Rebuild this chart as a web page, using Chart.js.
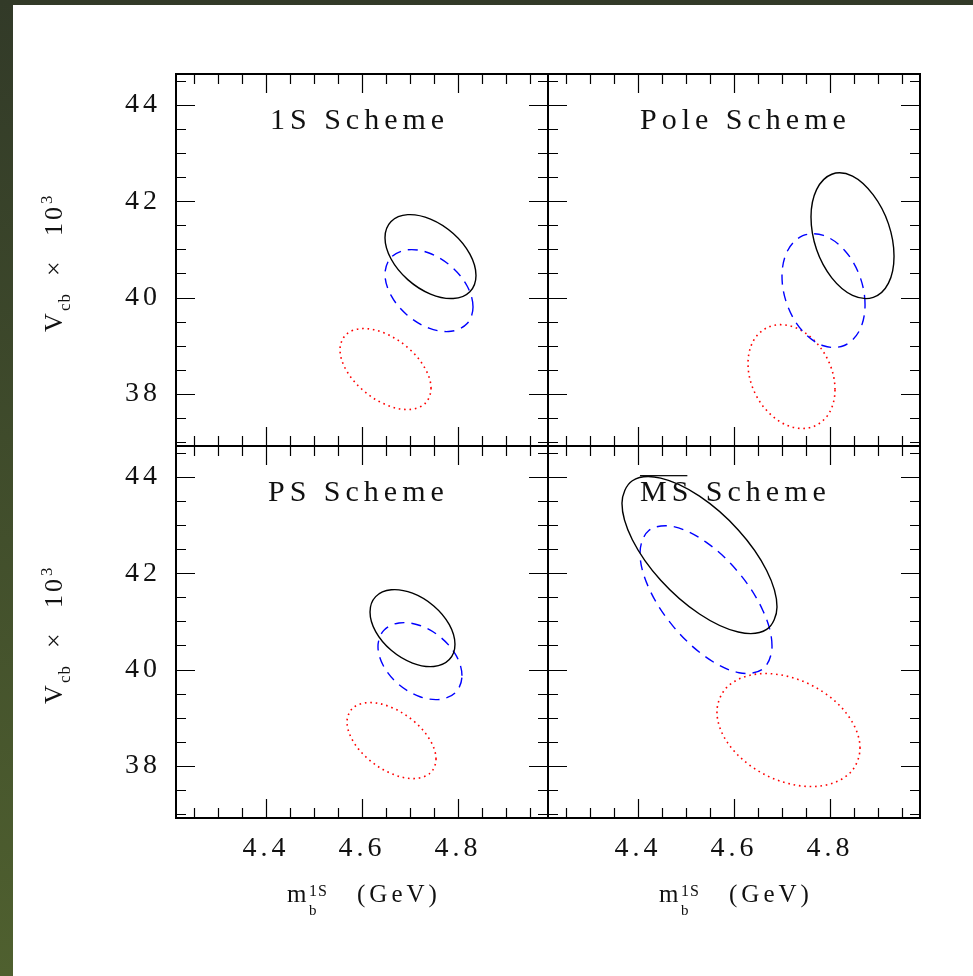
<!DOCTYPE html>
<html lang="en">
<head>
<meta charset="UTF-8">
<title>Vcb vs mb(1S) - four mass schemes</title>
<script src="https://cdn.jsdelivr.net/npm/chart.js"></script>
<style>
  html, body { margin: 0; width: 973px; height: 976px; overflow: hidden; background: linear-gradient(#323a28, #4f602f); }
  #page { position: absolute; left: 13px; top: 5px; right: 0; bottom: 0; background: #fff; }
  canvas { position: absolute; left: 0; top: 0; }
</style>
</head>
<body>
<div id="page"></div>
<canvas id="c1" width="973" height="976"></canvas>
<canvas id="c2" width="973" height="976"></canvas>
<canvas id="c3" width="973" height="976"></canvas>
<canvas id="c4" width="973" height="976"></canvas>

<script>
// axis ranges and ticks
const xRange = [4.2125, 4.9875];
const yRange = [36.92, 44.64];
const xMajor = [4.4, 4.6, 4.8];
const xMinor = [4.25, 4.3, 4.35, 4.45, 4.5, 4.55, 4.65, 4.7, 4.75, 4.85, 4.9, 4.95];
const yMajor = [38, 40, 42, 44];
const yMinor = [37, 37.5, 38.5, 39, 39.5, 40.5, 41, 41.5, 42.5, 43, 43.5, 44.5];

const titles = ['1S Scheme', 'Pole Scheme', 'PS Scheme', 'MS Scheme'];

// contours: [m_b, Vcb x 10^3]
// solid = black, dashed = blue, dotted = red
const oneSSolid = [[4.8375,40.459],[4.8248,40.901],[4.7901,41.329],[4.7427,41.629],[4.6953,41.721],[4.6606,41.580],[4.6479,41.243],[4.6606,40.801],[4.6953,40.373],[4.7427,40.073],[4.7901,39.981],[4.8248,40.122]];
const oneSDashed = [[4.8313,39.805],[4.8190,40.240],[4.7854,40.650],[4.7396,40.925],[4.6938,40.990],[4.6602,40.829],[4.6479,40.485],[4.6602,40.050],[4.6938,39.640],[4.7396,39.365],[4.7854,39.300],[4.8190,39.461]];
const oneSDotted = [[4.7438,38.114],[4.7311,38.536],[4.6964,38.953],[4.6490,39.254],[4.6016,39.357],[4.5669,39.235],[4.5542,38.920],[4.5669,38.498],[4.6016,38.081],[4.6490,37.780],[4.6964,37.677],[4.7311,37.799]];

const poleSolid = [[4.9334,40.860],[4.9218,41.530],[4.8901,42.130],[4.8469,42.520],[4.8037,42.560],[4.7720,42.240],[4.7604,41.670],[4.7720,40.996],[4.8037,40.410],[4.8469,40.047],[4.8901,40.005],[4.9218,40.300]];
const poleDashed = [[4.8730,39.849],[4.8614,40.461],[4.8297,40.989],[4.7865,41.290],[4.7433,41.284],[4.7116,40.973],[4.7000,40.441],[4.7116,39.829],[4.7433,39.301],[4.7865,39.000],[4.8297,39.006],[4.8614,39.317]];
const poleDotted = [[4.8104,38.091],[4.7983,38.650],[4.7651,39.131],[4.7198,39.405],[4.6745,39.400],[4.6413,39.117],[4.6292,38.631],[4.6413,38.072],[4.6745,37.591],[4.7198,37.317],[4.7651,37.322],[4.7983,37.605]];

const psSolid = [[4.7937,40.526],[4.7819,40.933],[4.7495,41.321],[4.7052,41.586],[4.6609,41.657],[4.6285,41.514],[4.6167,41.197],[4.6285,40.789],[4.6609,40.401],[4.7052,40.136],[4.7495,40.065],[4.7819,40.208]];
const psDashed = [[4.8083,39.873],[4.7966,40.283],[4.7646,40.664],[4.7208,40.915],[4.6770,40.968],[4.6450,40.808],[4.6333,40.480],[4.6450,40.069],[4.6770,39.688],[4.7208,39.437],[4.7646,39.384],[4.7966,39.544]];
const psDotted = [[4.7542,38.141],[4.7418,38.536],[4.7079,38.929],[4.6615,39.215],[4.6151,39.316],[4.5812,39.205],[4.5688,38.913],[4.5812,38.518],[4.6151,38.125],[4.6615,37.840],[4.7079,37.738],[4.7418,37.849]];

const msSolid = [[4.6896,41.301],[4.6680,42.057],[4.6089,42.898],[4.5281,43.599],[4.4473,43.973],[4.3882,43.919],[4.3666,43.451],[4.3882,42.695],[4.4473,41.854],[4.5281,41.153],[4.6089,40.779],[4.6680,40.834]];
const msDashed = [[4.6792,40.485],[4.6608,41.211],[4.6105,42.002],[4.5417,42.645],[4.4729,42.969],[4.4226,42.886],[4.4042,42.419],[4.4226,41.693],[4.4729,40.903],[4.5417,40.259],[4.6105,39.935],[4.6608,40.018]];
const msDotted = [[4.8625,38.370],[4.8425,38.975],[4.7880,39.519],[4.7135,39.855],[4.6390,39.894],[4.5845,39.625],[4.5645,39.120],[4.5845,38.515],[4.6390,37.971],[4.7135,37.635],[4.7880,37.596],[4.8425,37.865]];

const W = 973, H = 976;
const serif = '"Liberation Serif", "Times New Roman", serif';
const yAxisBox = 120, xAxisBox = 80;

// line controller that closes the curve smoothly (same trick the radar chart uses)
class EllipseController extends Chart.LineController {
  update(mode) {
    const line = this._cachedMeta.dataset;
    if (line) { line._loop = true; line._fullLoop = true; }
    super.update(mode);
  }
}
EllipseController.id = 'ellipse';
EllipseController.defaults = Chart.LineController.defaults;
EllipseController.overrides = { scales: { _index_: { type: 'linear' }, _value_: { type: 'linear' } } };
Chart.register(EllipseController);

const lineStyles = [
  { borderColor: '#000000', borderWidth: 1.4, borderDash: [] },
  { borderColor: '#0000ff', borderWidth: 1.4, borderDash: [10, 7] },
  { borderColor: '#ff0000', borderWidth: 1.6, borderDash: [1.6, 3.8] }
];

function put(ctx, text, x, y, size, spacing) {
  ctx.font = size + 'px ' + serif;
  ctx.letterSpacing = spacing + 'px';
  ctx.fillText(text, x, y);
}

// frame with inward ticks on all four sides
const framePlugin = {
  id: 'frame',
  beforeDraw(chart) {
    chart.ctx.letterSpacing = '4px';
  },
  afterDraw(chart) {
    const { ctx, chartArea: a } = chart;
    const x = chart.scales.x, y = chart.scales.y;
    ctx.save();
    ctx.strokeStyle = '#000';
    ctx.lineWidth = 1.2;
    ctx.beginPath();
    const xt = (vals, len) => vals.forEach(v => {
      const px = Math.round(x.getPixelForValue(v)) + 0.5;
      ctx.moveTo(px, a.top); ctx.lineTo(px, a.top + len);
      ctx.moveTo(px, a.bottom); ctx.lineTo(px, a.bottom - len);
    });
    const yt = (vals, len) => vals.forEach(v => {
      const py = Math.round(y.getPixelForValue(v)) + 0.5;
      ctx.moveTo(a.left, py); ctx.lineTo(a.left + len, py);
      ctx.moveTo(a.right, py); ctx.lineTo(a.right - len, py);
    });
    xt(xMajor, 19); xt(xMinor, 10);
    yt(yMajor, 19); yt(yMinor, 10);
    ctx.stroke();
    ctx.lineWidth = 2;
    ctx.strokeRect(a.left, a.top, a.right - a.left, a.bottom - a.top);
    ctx.restore();
  }
};

// panel title and axis titles
const textPlugin = {
  id: 'texts',
  afterDraw(chart, args, opts) {
    const { ctx, chartArea: a } = chart;
    ctx.save();
    ctx.fillStyle = '#111';
    ctx.textAlign = 'left';
    ctx.textBaseline = 'alphabetic';
    const tx = a.left + opts.titleX, ty = a.top + 55;
    put(ctx, opts.title, tx, ty, 30, 5);
    if (opts.overline) {
      ctx.letterSpacing = '0px';
      const w = ctx.measureText('MS').width + 4;
      ctx.fillRect(tx, ty - 26, w, 1.3);
    }
    if (opts.yTitle) {
      const cy = (a.top + a.bottom) / 2;
      ctx.save();
      ctx.translate(62, cy + 72);
      ctx.rotate(-Math.PI / 2);
      put(ctx, 'V', 0, 0, 26, 0);
      put(ctx, 'cb', 21, 8, 17, 1);
      put(ctx, '\u00d7', 56, 0, 26, 0);
      put(ctx, '10', 96, 0, 26, 3);
      put(ctx, '3', 128, -10, 17, 0);
      ctx.restore();
    }
    if (opts.xTitle) {
      const x0 = a.left + 111, y0 = 902;
      put(ctx, 'm', x0, y0, 25, 0);
      put(ctx, '1S', x0 + 22, y0 - 6, 16, 1);
      put(ctx, 'b', x0 + 22, y0 + 13, 15, 0);
      put(ctx, '(GeV)', x0 + 70, y0, 25, 4);
    }
    ctx.restore();
  }
};

const panels = [
  { id: 'c1', area: [176, 74, 548, 446], title: titles[0], titleX: 94, sets: [oneSSolid, oneSDashed, oneSDotted], yLabels: true, xLabels: false },
  { id: 'c2', area: [548, 74, 920, 446], title: titles[1], titleX: 92, sets: [poleSolid, poleDashed, poleDotted], yLabels: false, xLabels: false },
  { id: 'c3', area: [176, 446, 548, 818], title: titles[2], titleX: 92, sets: [psSolid, psDashed, psDotted], yLabels: true, xLabels: true },
  { id: 'c4', area: [548, 446, 920, 818], title: titles[3], titleX: 92, sets: [msSolid, msDashed, msDotted], yLabels: false, xLabels: true, overline: true }
];

panels.forEach(p => {
  new Chart(document.getElementById(p.id), {
    type: 'ellipse',
    data: {
      datasets: p.sets.map((pts, i) => ({
        data: pts.map(([x, y]) => ({ x, y })),
        ...lineStyles[i],
        pointRadius: 0,
        pointHoverRadius: 0,
        tension: 0.35,
        fill: false
      }))
    },
    options: {
      responsive: false,
      animation: false,
      events: [],
      layout: { padding: { left: p.area[0] - yAxisBox, top: p.area[1], right: W - p.area[2], bottom: H - p.area[3] - xAxisBox } },
      scales: {
        x: {
          type: 'linear', position: 'bottom', min: xRange[0], max: xRange[1],
          afterBuildTicks: s => { s.ticks = xMajor.map(v => ({ value: v })); },
          afterFit: s => { s.height = xAxisBox; },
          grid: { display: false, drawTicks: false },
          border: { display: false },
          ticks: { display: p.xLabels, autoSkip: false, maxRotation: 0, padding: 14, color: '#111', font: { family: serif, size: 28 }, callback: v => v.toFixed(1) }
        },
        y: {
          type: 'linear', position: 'left', min: yRange[0], max: yRange[1],
          afterBuildTicks: s => { s.ticks = yMajor.map(v => ({ value: v })); },
          afterFit: s => { s.width = yAxisBox; },
          grid: { display: false, drawTicks: false },
          border: { display: false },
          ticks: { display: p.yLabels, autoSkip: false, padding: 15, color: '#111', font: { family: serif, size: 28 }, callback: v => String(v) }
        }
      },
      plugins: {
        legend: { display: false },
        tooltip: { enabled: false },
        texts: { title: p.title, titleX: p.titleX, overline: !!p.overline, yTitle: p.yLabels, xTitle: p.xLabels }
      }
    },
    plugins: [framePlugin, textPlugin]
  });
});
</script>
</body>
</html>
